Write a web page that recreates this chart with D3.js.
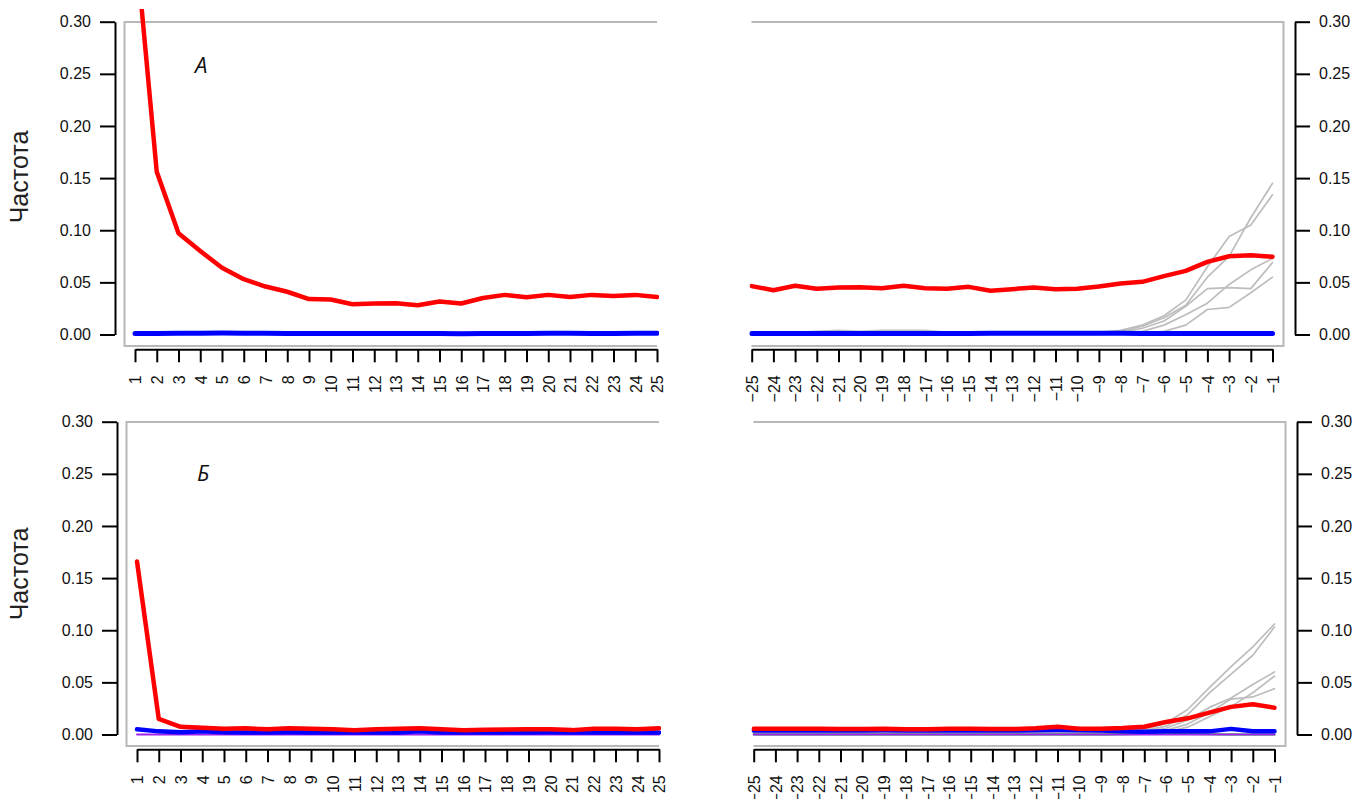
<!DOCTYPE html>
<html>
<head>
<meta charset="utf-8">
<script src="https://cdn.jsdelivr.net/npm/d3@7"></script>
<style>
  body { margin: 0; background: #fff; }
  svg { display: block; font-family: "Liberation Sans", Arial, sans-serif; }
</style>
</head>
<body>
<div id="container"></div>
<script>
const width = 1370, height = 799;

// --- Data --------------------------------------------------------------------
const posStart = [1, 2, 3, 4, 5, 6, 7, 8, 9, 10, 11, 12, 13, 14, 15, 16, 17, 18, 19, 20, 21, 22, 23, 24, 25];
const posEnd = [-25, -24, -23, -22, -21, -20, -19, -18, -17, -16, -15, -14, -13, -12, -11, -10, -9, -8, -7, -6, -5, -4, -3, -2, -1];
const yTicks = [0, 0.05, 0.10, 0.15, 0.20, 0.25, 0.30];

// panel А, start of sequence
const aStartRed = [0.382, 0.156, 0.097, 0.080, 0.064, 0.053, 0.046, 0.041, 0.034, 0.0335, 0.029, 0.0297, 0.030, 0.028, 0.0316, 0.0297, 0.035, 0.038, 0.0357, 0.038, 0.036, 0.038, 0.037, 0.038, 0.036];
const aStartBlue = [0.001, 0.001, 0.0012, 0.0013, 0.0014, 0.0012, 0.0011, 0.001, 0.001, 0.0009, 0.0009, 0.001, 0.001, 0.0009, 0.0009, 0.0008, 0.0009, 0.001, 0.001, 0.0012, 0.0011, 0.001, 0.001, 0.0011, 0.0012];
// panel А, end of sequence
const aEndRed = [0.0464, 0.0425, 0.0467, 0.0438, 0.045, 0.0454, 0.0444, 0.0467, 0.0444, 0.0438, 0.0457, 0.0419, 0.0435, 0.045, 0.0435, 0.0438, 0.046, 0.049, 0.0505, 0.056, 0.061, 0.0697, 0.075, 0.076, 0.0745];
const aEndBlue = [0.001, 0.001, 0.001, 0.001, 0.001, 0.001, 0.001, 0.001, 0.001, 0.001, 0.001, 0.0011, 0.0012, 0.0012, 0.0013, 0.0012, 0.0012, 0.0011, 0.001, 0.001, 0.001, 0.001, 0.001, 0.001, 0.001];
const aEndGray1 = [0.001, 0.001, 0.001, 0.001, 0.001, 0.001, 0.001, 0.001, 0.001, 0.001, 0.001, 0.001, 0.001, 0.001, 0.001, 0.001, 0.001, 0.003, 0.008, 0.016, 0.028, 0.055, 0.075, 0.112, 0.145];
const aEndGray2 = [0.001, 0.001, 0.002, 0.003, 0.004, 0.003, 0.004, 0.004, 0.004, 0.002, 0.002, 0.002, 0.002, 0.002, 0.002, 0.002, 0.002, 0.004, 0.009, 0.018, 0.033, 0.065, 0.094, 0.105, 0.134];
const aEndGray3 = [0.001, 0.001, 0.001, 0.001, 0.001, 0.001, 0.001, 0.001, 0.001, 0.001, 0.001, 0.001, 0.001, 0.001, 0.001, 0.001, 0.001, 0.002, 0.006, 0.013, 0.027, 0.044, 0.045, 0.044, 0.069];
const aEndGray4 = [0.000, 0.000, 0.000, 0.000, 0.000, 0.000, 0.000, 0.000, 0.000, 0.000, 0.000, 0.000, 0.000, 0.000, 0.000, 0.000, 0.000, 0.001, 0.003, 0.009, 0.019, 0.030, 0.048, 0.062, 0.073];
const aEndGray5 = [0.000, 0.000, 0.000, 0.000, 0.000, 0.000, 0.000, 0.000, 0.000, 0.000, 0.000, 0.000, 0.000, 0.000, 0.000, 0.000, 0.000, 0.000, 0.001, 0.003, 0.009, 0.024, 0.026, 0.040, 0.055];

// panel Б, start of sequence
const bStartRed = [0.166, 0.015, 0.0074, 0.0064, 0.0055, 0.006, 0.005, 0.006, 0.0055, 0.005, 0.004, 0.005, 0.0055, 0.006, 0.005, 0.004, 0.0045, 0.0048, 0.005, 0.005, 0.0042, 0.0055, 0.0055, 0.005, 0.006];
const bStartBlue = [0.005, 0.003, 0.0022, 0.003, 0.0022, 0.002, 0.002, 0.0022, 0.002, 0.002, 0.002, 0.002, 0.0018, 0.003, 0.002, 0.0018, 0.002, 0.002, 0.002, 0.0022, 0.002, 0.002, 0.002, 0.002, 0.002];
const bStartPurple = [0, 0, 0, 0, 0, 0, 0, 0, 0, 0, 0, 0, 0, 0, 0, 0, 0, 0, 0, 0, 0, 0, 0, 0, 0];
// panel Б, end of sequence
const bEndRed = [0.0054, 0.0054, 0.0054, 0.0054, 0.0052, 0.0052, 0.0055, 0.005, 0.005, 0.0054, 0.0054, 0.0052, 0.0052, 0.006, 0.0075, 0.0055, 0.0055, 0.0062, 0.0075, 0.012, 0.0155, 0.021, 0.0265, 0.029, 0.0257];
const bEndBlue = [0.0038, 0.0038, 0.0038, 0.0038, 0.0038, 0.0038, 0.004, 0.0038, 0.0038, 0.0038, 0.0038, 0.0038, 0.0038, 0.004, 0.0042, 0.004, 0.0038, 0.0032, 0.0026, 0.003, 0.003, 0.003, 0.0054, 0.0032, 0.0032];
const bEndGreen = [0, 0, 0, 0, 0, 0, 0, 0, 0, 0, 0, 0, 0, 0, 0, 0, 0, 0.0003, 0.0004, 0.0005, 0.0005, 0.0003, 0, 0, 0];
const bEndPurple = [0, 0, 0, 0, 0, 0, 0, 0, 0, 0, 0, 0, 0, 0, 0, 0, 0, 0, 0, 0, 0, 0, 0, 0, 0];
const bEndGray1 = [0.001, 0.001, 0.001, 0.001, 0.001, 0.001, 0.001, 0.001, 0.001, 0.001, 0.001, 0.001, 0.001, 0.001, 0.001, 0.001, 0.001, 0.002, 0.005, 0.011, 0.024, 0.045, 0.065, 0.084, 0.106];
const bEndGray2 = [0.001, 0.001, 0.001, 0.001, 0.001, 0.001, 0.001, 0.001, 0.001, 0.001, 0.001, 0.001, 0.001, 0.001, 0.001, 0.001, 0.001, 0.002, 0.004, 0.008, 0.019, 0.040, 0.058, 0.076, 0.103];
const bEndGray3 = [0.001, 0.001, 0.001, 0.001, 0.001, 0.001, 0.001, 0.001, 0.001, 0.001, 0.001, 0.001, 0.001, 0.001, 0.001, 0.001, 0.001, 0.001, 0.003, 0.006, 0.014, 0.026, 0.035, 0.048, 0.060];
const bEndGray4 = [0.001, 0.001, 0.001, 0.001, 0.001, 0.001, 0.001, 0.001, 0.001, 0.001, 0.001, 0.001, 0.001, 0.001, 0.001, 0.001, 0.001, 0.001, 0.002, 0.004, 0.010, 0.021, 0.034, 0.036, 0.044];
const bEndGray5 = [0.001, 0.001, 0.001, 0.001, 0.001, 0.001, 0.001, 0.001, 0.001, 0.001, 0.001, 0.001, 0.001, 0.001, 0.001, 0.001, 0.001, 0.001, 0.001, 0.002, 0.007, 0.017, 0.027, 0.040, 0.056];

const RED = "#ff0000", BLUE = "#0000ff", GRAY = "#bdbdbd", PURPLE = "#a020f0", GREEN = "#00cd00";
const FRAME = "#b8b8b8";

// --- Panels ------------------------------------------------------------------
const panels = [
  { row: 0, side: "start", label: "А", series: [
    { v: aStartBlue, c: BLUE, w: 5 }, { v: aStartRed, c: RED, w: 4.5 }] },
  { row: 0, side: "end", series: [
    { v: aEndGray1, c: GRAY, w: 1.7 }, { v: aEndGray2, c: GRAY, w: 1.7 }, { v: aEndGray3, c: GRAY, w: 1.7 },
    { v: aEndGray4, c: GRAY, w: 1.7 }, { v: aEndGray5, c: GRAY, w: 1.7 },
    { v: aEndBlue, c: BLUE, w: 5 }, { v: aEndRed, c: RED, w: 4.5 }] },
  { row: 1, side: "start", label: "Б", series: [
    { v: bStartPurple, c: PURPLE, w: 2 }, { v: bStartBlue, c: BLUE, w: 4.5 }, { v: bStartRed, c: RED, w: 4.5 }] },
  { row: 1, side: "end", series: [
    { v: bEndGray1, c: GRAY, w: 1.7 }, { v: bEndGray2, c: GRAY, w: 1.7 }, { v: bEndGray3, c: GRAY, w: 1.7 },
    { v: bEndGray4, c: GRAY, w: 1.7 }, { v: bEndGray5, c: GRAY, w: 1.7 },
    { v: bEndGreen, c: GREEN, w: 2 }, { v: bEndPurple, c: PURPLE, w: 2 },
    { v: bEndBlue, c: BLUE, w: 4.5 }, { v: bEndRed, c: RED, w: 4.5 }] },
];

const svg = d3.select("#container").append("svg").attr("width", width).attr("height", height);
const defs = svg.append("defs");

panels.forEach((p, i) => {
  const oy = p.row * 400, ox = p.row * 2;
  const isStart = p.side === "start";
  const xs = isStart ? posStart : posEnd;
  const x = d3.scaleLinear().domain([xs[0], xs[24]])
    .range(isStart ? [135 + ox, 657 + ox] : [751.7 + ox, 1272.5 + ox]);
  const y = d3.scaleLinear().domain([0, 0.30]).range([334.5 + oy, 21.7 + oy]);

  const left = isStart ? 124.5 + ox : 751.5 + ox;
  const right = isStart ? 657 + ox : 1283.5 + ox;
  const top = 22 + oy, bottom = 346 + oy;

  // gray open frame (R-style box on three sides)
  const framePath = isStart
    ? `M${right},${top}H${left}V${bottom}H${right}`
    : `M${left},${top}H${right}V${bottom}H${left}`;
  svg.append("path").attr("d", framePath).attr("fill", "none")
    .attr("stroke", FRAME).attr("stroke-width", 2);

  // clip: lines may run slightly above the frame (as in panel А)
  defs.append("clipPath").attr("id", `clip${i}`).append("rect")
    .attr("x", left - 2).attr("y", 9 + oy)
    .attr("width", right - left + 4).attr("height", bottom - 9);

  const g = svg.append("g").attr("clip-path", `url(#clip${i})`);
  const line = d3.line().x((d, k) => x(xs[k])).y((d) => y(d));
  p.series.forEach((s) => {
    g.append("path").datum(s.v).attr("d", line).attr("fill", "none")
      .attr("stroke", s.c).attr("stroke-width", s.w)
      .attr("stroke-linecap", "round").attr("stroke-linejoin", "round");
  });

  // y axis
  const yAxis = (isStart ? d3.axisLeft(y) : d3.axisRight(y))
    .tickValues(yTicks).tickFormat(d3.format(".2f")).tickSize(15).tickSizeOuter(0).tickPadding(9);
  const ya = svg.append("g")
    .attr("transform", `translate(${isStart ? 115 + ox : 1295 + ox},0)`)
    .call(yAxis);
  ya.select(".domain").attr("stroke", "#000").attr("stroke-width", 2);
  ya.selectAll(".tick line").attr("stroke", "#000").attr("stroke-width", 2);
  ya.selectAll(".tick text").attr("fill", "#111").style("font-size", "16px")
    .style("font-family", "'Liberation Sans', Arial, sans-serif");

  // x axis with vertical labels
  const xa = svg.append("g").attr("transform", `translate(0,${349.3 + oy})`)
    .call(d3.axisBottom(x).tickValues(xs).tickFormat(d3.format("d")).tickSize(13).tickSizeOuter(0));
  xa.select(".domain").attr("stroke", "#000").attr("stroke-width", 2);
  xa.selectAll(".tick line").attr("stroke", "#000").attr("stroke-width", 2);
  xa.selectAll(".tick text")
    .attr("transform", "rotate(-90)")
    .attr("text-anchor", "end")
    .attr("x", -26).attr("y", 0).attr("dy", "0.36em")
    .attr("fill", "#111").style("font-size", "16px")
    .style("font-family", "'Liberation Sans', Arial, sans-serif");

  if (isStart) {
    svg.append("text")
      .attr("transform", `translate(28,${177 + oy - p.row * 3}) rotate(-90)`)
      .attr("text-anchor", "middle")
      .attr("fill", "#222").style("font-size", "25px")
      .text("Частота");
    svg.append("text")
      .attr("x", 195 + ox).attr("y", 73 + oy + p.row * 8)
      .attr("fill", "#111").style("font-size", "22px").style("font-style", "italic")
      .style("font-family", "'Open Sans', 'DejaVu Sans', sans-serif")
      .text(p.label);
  }
});
</script>
</body>
</html>
